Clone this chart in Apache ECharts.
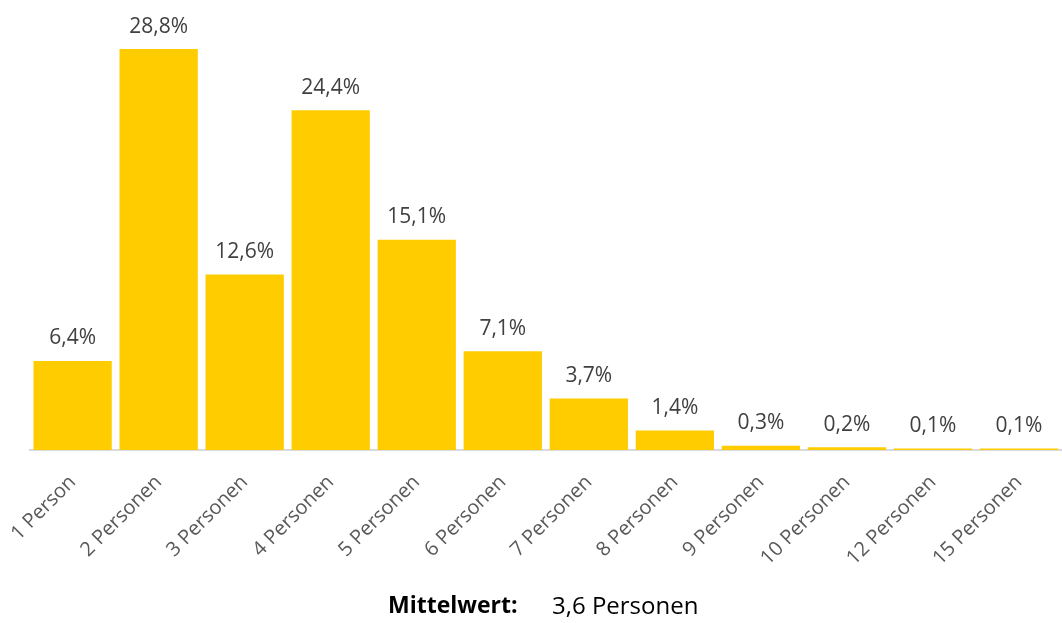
<!DOCTYPE html>
<html><head><meta charset="utf-8">
<script src="https://cdn.jsdelivr.net/npm/echarts@6/dist/echarts.min.js"></script>
<style>html,body{margin:0;padding:0;background:#fff}#c{width:1062px;height:623px}</style>
</head><body><div id="c"></div>
<script>
const categories = ["1 Person","2 Personen","3 Personen","4 Personen","5 Personen","6 Personen","7 Personen","8 Personen","9 Personen","10 Personen","12 Personen","15 Personen"];
const values = [6.4, 28.8, 12.6, 24.4, 15.1, 7.1, 3.7, 1.4, 0.3, 0.2, 0.1, 0.1];
const meanLabel = "Mittelwert:";
const meanValue = "3,6 Personen";
const chart = echarts.init(document.getElementById('c'), null, {renderer:'canvas'});
const font = "'Open Sans', 'Noto Sans', sans-serif";
chart.setOption({
  animation:false,
  grid:{left:29.6, right:-9.2, top:4.5, bottom:173, containLabel:false},
  xAxis:{type:'category', data:categories,
    axisLine:{lineStyle:{color:'#d9d9d9', width:2}},
    axisTick:{show:false},
    axisLabel:{rotate:45, color:'#595959', fontSize:20, fontFamily:font, margin:29, interval:0}},
  yAxis:{type:'value', min:0, max:32, show:false, splitLine:{show:false}},
  series:[{type:'bar', data:values, barCategoryGap:'9%',
    itemStyle:{color:'#FFCC00'},
    label:{show:true, position:'top', distance:12, color:'#404040', fontSize:21, fontFamily:font,
      formatter:p=>p.value.toFixed(1).replace('.',',')+'%'}}],
  graphic:[
    {type:'text', left:388, top:595, style:{text:meanLabel, font:"bold 23px "+font, fill:'#000'}},
    {type:'text', left:552, top:595, style:{text:meanValue, font:"24px "+font, fill:'#000'}}
  ]
});
</script></body></html>
